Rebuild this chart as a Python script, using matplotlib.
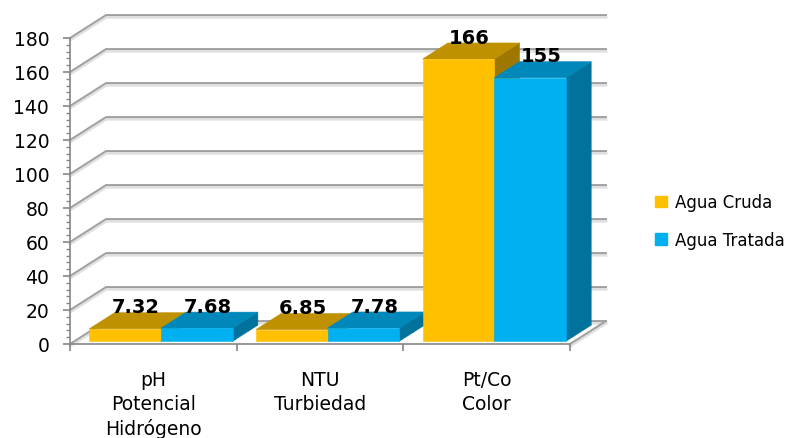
import matplotlib
matplotlib.use("Agg")
import matplotlib.pyplot as plt
from matplotlib.patches import Patch
from matplotlib.ticker import MultipleLocator

categories = ["pH\nPotencial\nHidrógeno", "NTU\nTurbiedad", "Pt/Co\nColor"]
series = ["Agua Cruda", "Agua Tratada"]
cruda = [7.32, 6.85, 166]
tratada = [7.68, 7.78, 155]

# front / top / side shades for each series
shades = [("#FFC000", "#BF9000", "#9E7700"),
          ("#00B0F0", "#0088BB", "#00729C")]

# fake 3d: depth offset of the whole box in data units
DX, DY = 0.216, 13.5
BAR_W = 0.43
BAR_X0 = 0.09
Z0, Z1 = 0.12, 0.82


def proj(x, y, z):
    return x + z * DX, y + z * DY


def face(ax, pts, color):
    xs, ys = zip(*[proj(*p) for p in pts])
    ax.fill(xs, ys, color=color, lw=0.4, ec=color, clip_on=False, zorder=5)


fig = plt.figure(figsize=(7.98, 4.39), dpi=100)
ax = fig.add_axes([70 / 798, 94 / 439, 500 / 798, 306 / 439])
ax.set_xlim(0, 3)
ax.set_ylim(0, 180)

grid_c = "#a0a0a0"
shadow_c = "#e0e0e0"

# walls: gridlines on left wall and back wall, plus floor edges
for v in range(0, 181, 20):
    p0 = proj(0, v, 0)
    p1 = proj(0, v, 1)
    p2 = proj(3, v, 1)
    ax.plot([p0[0], p1[0], p2[0]], [p0[1] - 1.3, p1[1] - 1.3, p2[1] - 1.3],
            color=shadow_c, lw=2.0, clip_on=False, zorder=1)
    ax.plot([p0[0], p1[0], p2[0]], [p0[1], p1[1], p2[1]],
            color=grid_c, lw=1.4, clip_on=False, zorder=2)
q0 = proj(3, 0, 0)
q1 = proj(3, 0, 1)
ax.plot([q0[0], q1[0]], [q0[1] - 1.3, q1[1] - 1.3], color=shadow_c, lw=2.0,
        clip_on=False, zorder=1)
ax.plot([q0[0], q1[0]], [q0[1], q1[1]], color=grid_c, lw=1.4,
        clip_on=False, zorder=2)

# bars, left to right so each box hides the side of the previous one
for i in range(len(categories)):
    for j, vals in enumerate([cruda, tratada]):
        h = vals[i]
        x0 = i + BAR_X0 + j * BAR_W
        x1 = x0 + BAR_W
        front, top, side = shades[j]
        face(ax, [(x1, 0, Z0), (x1, 0, Z1), (x1, h, Z1), (x1, h, Z0)], side)
        face(ax, [(x0, h, Z0), (x1, h, Z0), (x1, h, Z1), (x0, h, Z1)], top)
        face(ax, [(x0, 0, Z0), (x1, 0, Z0), (x1, h, Z0), (x0, h, Z0)], front)

for i in range(len(categories)):
    for j, vals in enumerate([cruda, tratada]):
        h = vals[i]
        xc = i + BAR_X0 + j * BAR_W + BAR_W / 2
        ax.annotate(f"{h:g}", xy=proj(xc, h, 0.42), xytext=(0, 4),
                    textcoords="offset points", ha="center", va="bottom",
                    fontsize=14, fontweight="bold", color="black",
                    annotation_clip=False, zorder=10)

# axes
for s in ["top", "right"]:
    ax.spines[s].set_visible(False)
ax.spines["left"].set_color("#868686")
ax.spines["bottom"].set_color("#868686")
ax.spines["left"].set_linewidth(1.2)
ax.spines["bottom"].set_linewidth(1.2)
ax.spines["left"].set_zorder(3)
ax.spines["bottom"].set_zorder(3)

ax.set_yticks(range(0, 181, 20))
ax.yaxis.set_minor_locator(MultipleLocator(4))
ax.tick_params(axis="y", which="major", length=5, width=1.2, color="#868686",
               labelsize=13.5, pad=10)
ax.tick_params(axis="y", which="minor", length=3, width=1, color="#868686")

ax.set_xticks([0, 1, 2, 3])
ax.set_xticklabels([])
ax.set_xticks([0.5, 1.5, 2.5], minor=True)
ax.set_xticklabels(categories, minor=True, linespacing=1.3)
ax.tick_params(axis="x", which="major", length=5, width=1.2, color="#868686")
ax.tick_params(axis="x", which="minor", length=0, labelsize=13.5, pad=19)

ax.patch.set_visible(False)

handles = [Patch(color=shades[0][0]), Patch(color=shades[1][0])]
fig.legend(handles, series, loc="center left",
           bbox_to_anchor=(655 / 798, 1 - 222 / 439), frameon=False,
           fontsize=12, handlelength=0.7, handleheight=0.7,
           handletextpad=0.5, labelspacing=1.15, borderaxespad=0,
           borderpad=0)

fig.savefig("out.png", dpi=100)
